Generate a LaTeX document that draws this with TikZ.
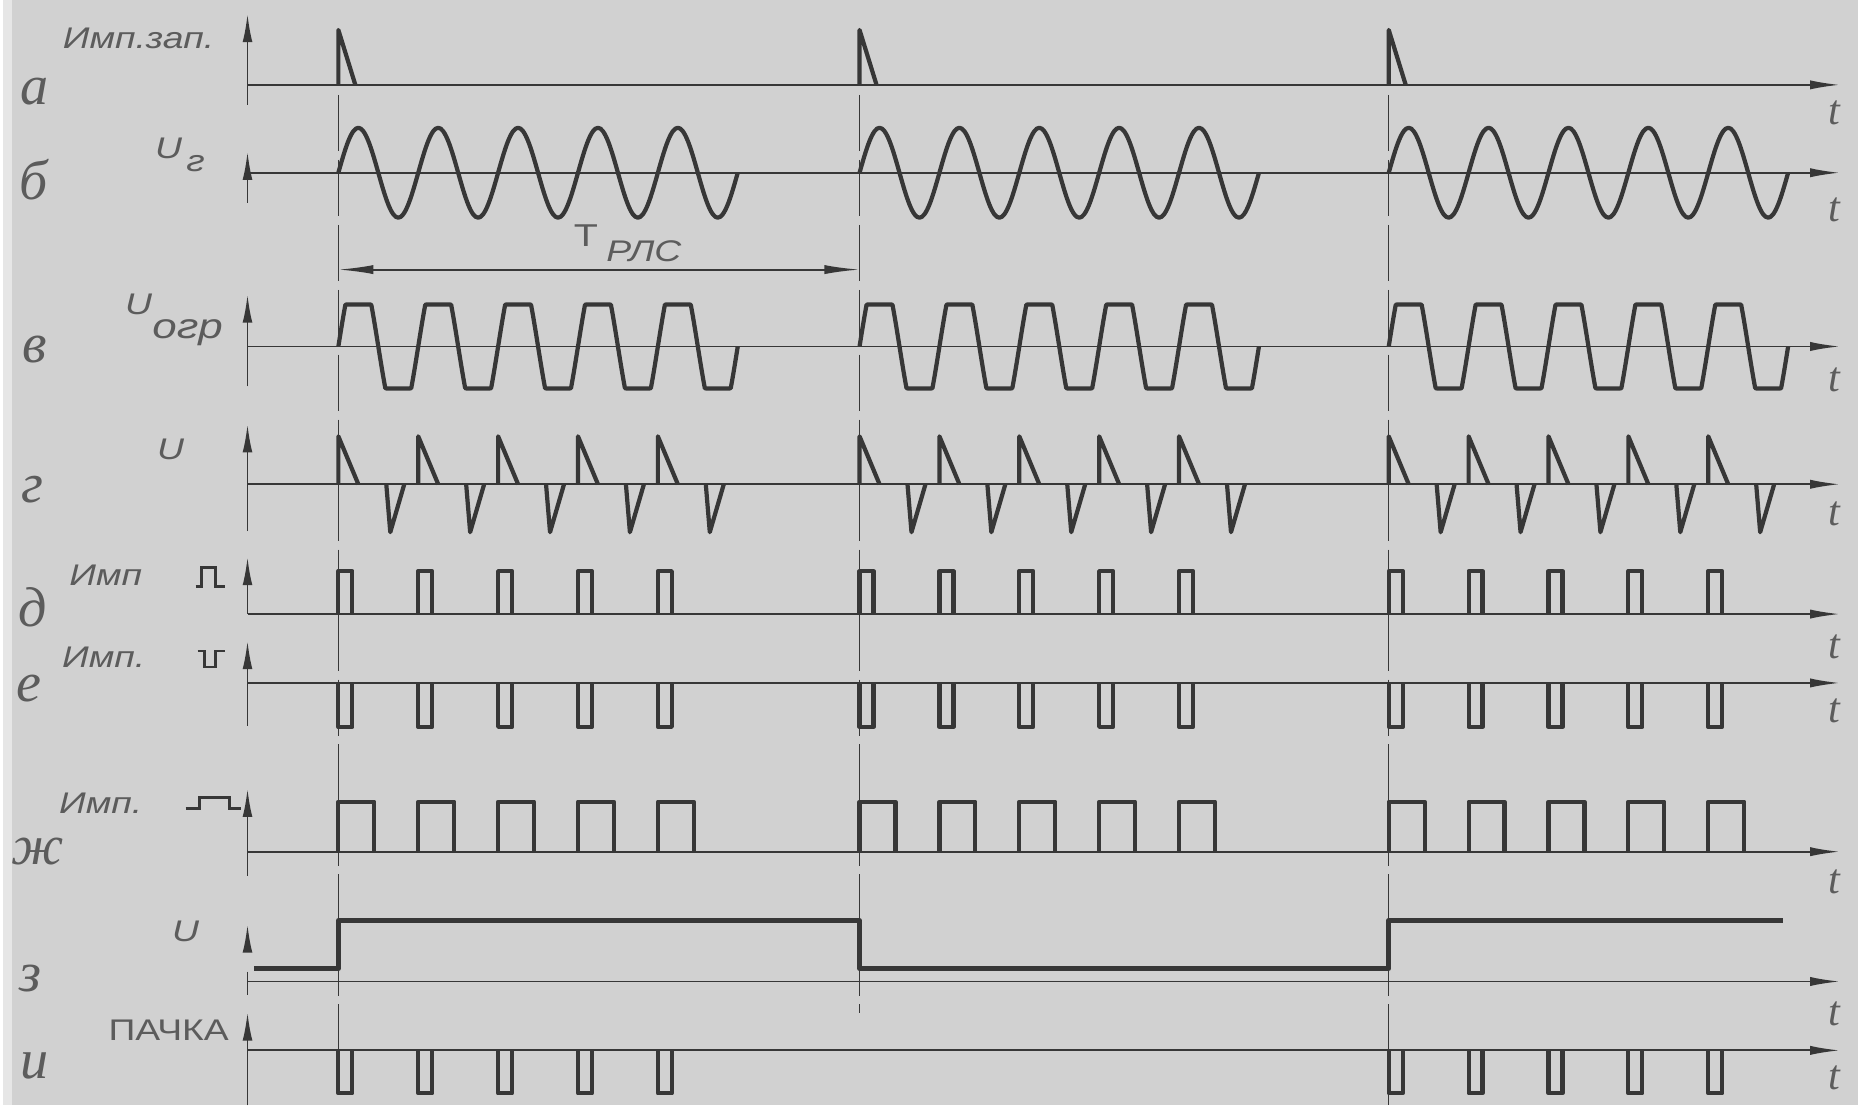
\documentclass[tikz,border=0pt]{standalone}
\usepackage{fontspec}
\setmainfont{Liberation Serif}
\newfontfamily\sigfont[FakeStretch=1.25]{Liberation Sans}
\usetikzlibrary{arrows.meta}

\definecolor{paper}{RGB}{209,209,209}
\definecolor{ink}{RGB}{55,55,55}
\definecolor{pencil}{RGB}{92,92,92}

\begin{document}
\begin{tikzpicture}[x=0.01cm, y=-0.01cm,
    signal/.style={ink, line width=1.2pt, line join=round},
    taxis/.style={ink, line width=0.55pt, -{Latex[length=8.5pt,width=2.6pt]}},
    vaxis/.style={ink, line width=0.55pt, -{Latex[length=8pt,width=2.8pt]}},
    sync/.style={ink, line width=0.35pt, dash pattern=on 16pt off 2.5pt},
    rowletter/.style={pencil, font=\fontsize{16}{16}\selectfont\itshape},
    siglabel/.style={pencil, font=\sigfont\fontsize{8.5}{9}\selectfont\itshape},
    tlabel/.style={pencil, font=\fontsize{12}{12}\selectfont\itshape}]

  \fill[paper] (0,0) rectangle (1858,1107);
  \fill[paper!55!white] (0,0) rectangle (9,1107);

  % time axes
  \foreach \y/\ty in {85/113, 173/210, 347/380, 485/515, 615/648, 684/712, 853/883, 983/1015, 1052/1080} {
    \draw[taxis] (245,\y) -- (1840,\y);
    \node[tlabel] (t\y) at (1834,\ty) {t};
  }

  % signal axes
  \foreach \lo/\hi in {105/14, 203/152, 387/295, 532/425, 615/558, 727/642, 877/790, 952/926, 1107/1014}
    \draw[vaxis] (245,\lo) -- (245,\hi);
  \draw[ink, line width=0.55pt] (245,973) -- (245,997);

  \draw[sync] (336,30) -- (336,1095);
  \draw[sync] (858,30) -- (858,1015);
  \draw[sync] (1388,30) -- (1388,1107);

  % three bursts
  \foreach \b in {336,858,1388} {
    \draw[signal] (\b,85) -- (\b,30) -- (\b+17,85);
    \draw[signal] plot[domain=0:400, samples=161, smooth] ({\b+\x}, {173-45*sin(4.5*\x)});
    \draw[signal] plot[domain=0:400, samples=401] ({\b+\x}, {347-42*max(-1,min(1,1.9*sin(4.5*\x)))});
    \foreach \k in {0,...,4} {
      \pgfmathsetmacro\p{\b+80*\k}
      \draw[signal] (\p,485) -- (\p,437) -- (\p+20,485);
      \draw[signal] (\p+48,485) -- (\p+52,533) -- (\p+66,485);
      \draw[signal] (\p,615) -- (\p,572) -- (\p+14,572) -- (\p+14,615);
      \draw[signal] (\p,684) -- (\p,728) -- (\p+14,728) -- (\p+14,684);
      \draw[signal] (\p,853) -- (\p,803) -- (\p+36,803) -- (\p+36,853);
    }
  }
  \foreach \b in {336,1388}
    \foreach \k in {0,...,4}
      \draw[signal] ({\b+80*\k},1052) -- ++(0,43) -- ++(14,0) -- ++(0,-43);

  \draw[signal, line width=1.4pt] (252,970) -- (336,970) -- (336,922) -- (858,922)
    -- (858,970) -- (1388,970) -- (1388,922) -- (1783,922);

  % period
  \coordinate (trls-l) at (336,270);
  \coordinate (trls-r) at (858,270);
  \draw[ink, line width=0.55pt, {Latex[length=10pt,width=2.6pt]}-{Latex[length=10pt,width=2.6pt]}] (trls-l) -- (trls-r);
  \node[siglabel, font=\sigfont\fontsize{9}{9}\selectfont] (trls) at (584,236) {T};
  \node[siglabel, anchor=west] (trls-sub) at (592,252) {РЛС};

  % row letters
  \node[rowletter] (row-a) at (32,92) {а};
  \node[rowletter] (row-b) at (31,180) {б};
  \node[rowletter] (row-c) at (32,350) {в};
  \node[rowletter] (row-d) at (30,490) {г};
  \node[rowletter] (row-e) at (30,608) {д};
  \node[rowletter] (row-f) at (26,690) {е};
  \node[rowletter] (row-g) at (35,853) {ж};
  \node[rowletter] (row-h) at (28,980) {з};
  \node[rowletter] (row-i) at (32,1068) {и};

  % signal names
  \node[siglabel, anchor=east] (lbl-a) at (224,38) {Имп.зап.};
  \node[siglabel] (lbl-b) at (166,149) {U};
  \node[siglabel] (lbl-b-sub) at (193,164) {г};
  \node[siglabel] (lbl-c) at (136,305) {U};
  \node[siglabel, font=\sigfont\fontsize{10}{10}\selectfont\itshape] (lbl-c-sub) at (185,333) {огр};
  \node[siglabel] (lbl-d) at (168,450) {U};
  \node[siglabel, anchor=east] (lbl-e) at (152,576) {Имп};
  \draw[ink, line width=0.8pt] (193,587) -- (199,587) -- (199,568) -- (213,568) -- (213,587) -- (222,587);
  \node[siglabel, anchor=east] (lbl-f) at (155,658) {Имп.};
  \draw[ink, line width=0.8pt] (195,652) -- (202,652) -- (202,668) -- (213,668) -- (213,652) -- (222,652);
  \node[siglabel, anchor=east] (lbl-g) at (152,804) {Имп.};
  \draw[ink, line width=0.8pt] (183,810) -- (197,810) -- (197,799) -- (227,799) -- (227,810) -- (238,810);
  \node[siglabel] (lbl-h) at (183,933) {U};
  \node[siglabel, font=\sigfont\fontsize{8.5}{9}\selectfont] (lbl-i) at (166,1032) {ПАЧКА};
\end{tikzpicture}
\end{document}
